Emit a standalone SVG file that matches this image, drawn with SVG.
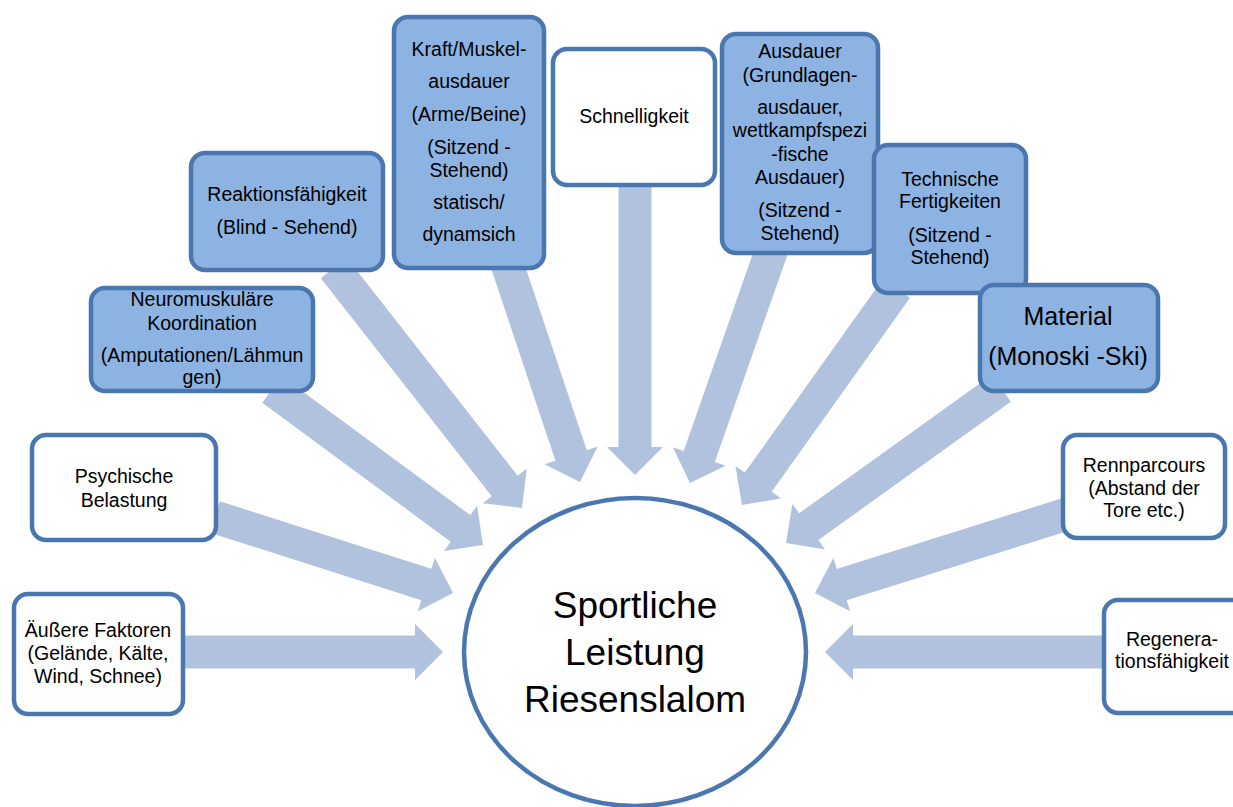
<svg xmlns="http://www.w3.org/2000/svg" width="1233" height="807" viewBox="0 0 1233 807">
<style>
.box{stroke:#4a77b0;stroke-width:4.5}
.blue{fill:#8db3e2}
.white{fill:#ffffff}
.arr{fill:#b0c2de}
text{font-family:"Liberation Sans",Arial,sans-serif;font-size:19.5px;fill:#000;text-anchor:middle}
.big{font-size:25px}
.center{font-size:37px}
</style>
<rect width="1233" height="807" fill="#ffffff"/>
<g id="connectors">
<polygon class="arr" transform="translate(443,652) rotate(0)" points="0,0 -28,-28 -28,-16.5 -262,-16.5 -262,16.5 -28,16.5 -28,28"/>
<polygon class="arr" transform="translate(453,593) rotate(17.7)" points="0,0 -28,-28 -28,-16.5 -250,-16.5 -250,16.5 -28,16.5 -28,28"/>
<polygon class="arr" transform="translate(483,545) rotate(36.4)" points="0,0 -28,-28 -28,-16.5 -262,-16.5 -262,16.5 -28,16.5 -28,28"/>
<polygon class="arr" transform="translate(522,508) rotate(51.9)" points="0,0 -28,-28 -28,-16.5 -305,-16.5 -305,16.5 -28,16.5 -28,28"/>
<polygon class="arr" transform="translate(580,482) rotate(71.5)" points="0,0 -28,-28 -28,-16.5 -230,-16.5 -230,16.5 -28,16.5 -28,28"/>
<polygon class="arr" transform="translate(635,475) rotate(90)" points="0,0 -28,-28 -28,-16.5 -292,-16.5 -292,16.5 -28,16.5 -28,28"/>
<polygon class="arr" transform="translate(690,483) rotate(109.3)" points="0,0 -28,-28 -28,-16.5 -248,-16.5 -248,16.5 -28,16.5 -28,28"/>
<polygon class="arr" transform="translate(742,505) rotate(125.5)" points="0,0 -28,-28 -28,-16.5 -266,-16.5 -266,16.5 -28,16.5 -28,28"/>
<polygon class="arr" transform="translate(786,543) rotate(144.3)" points="0,0 -28,-28 -28,-16.5 -265,-16.5 -265,16.5 -28,16.5 -28,28"/>
<polygon class="arr" transform="translate(815,593) rotate(162.6)" points="0,0 -28,-28 -28,-16.5 -265,-16.5 -265,16.5 -28,16.5 -28,28"/>
<polygon class="arr" transform="translate(825,652) rotate(180)" points="0,0 -28,-28 -28,-16.5 -282,-16.5 -282,16.5 -28,16.5 -28,28"/>
</g>
<g id="node-center">
<ellipse class="box white" cx="635" cy="652" rx="171" ry="154"/>
<text class="center" x="635" y="618">Sportliche</text>
<text class="center" x="635" y="665">Leistung</text>
<text class="center" x="635" y="712">Riesenslalom</text>
</g>
<g id="node-aeussere">
<rect class="box white" x="14" y="594" width="169" height="120" rx="14"/>
<text x="98" y="637">Äußere Faktoren</text>
<text x="98" y="660">(Gelände, Kälte,</text>
<text x="98" y="683">Wind, Schnee)</text>
</g>
<g id="node-psychische">
<rect class="box white" x="32" y="435" width="184" height="105" rx="14"/>
<text x="124" y="483">Psychische</text>
<text x="124" y="507">Belastung</text>
</g>
<g id="node-neuro">
<rect class="box blue" x="91" y="288" width="222" height="103" rx="14"/>
<text x="202" y="306">Neuromuskuläre</text>
<text x="202" y="330">Koordination</text>
<text x="202" y="362">(Amputationen/Lähmun</text>
<text x="202" y="384">gen)</text>
</g>
<g id="node-reaktion">
<rect class="box blue" x="191" y="153" width="192" height="117" rx="14"/>
<text x="287" y="201">Reaktionsfähigkeit</text>
<text x="287" y="234">(Blind - Sehend)</text>
</g>
<g id="node-kraft">
<rect class="box blue" x="394" y="17" width="150" height="251" rx="14"/>
<text x="469" y="56">Kraft/Muskel-</text>
<text x="469" y="88">ausdauer</text>
<text x="469" y="121">(Arme/Beine)</text>
<text x="469" y="154">(Sitzend -</text>
<text x="469" y="177">Stehend)</text>
<text x="469" y="209">statisch/</text>
<text x="469" y="241">dynamsich</text>
</g>
<g id="node-schnelligkeit">
<rect class="box white" x="553" y="49" width="162" height="136" rx="14"/>
<text x="634" y="123">Schnelligkeit</text>
</g>
<g id="node-ausdauer">
<rect class="box blue" x="722" y="34" width="156" height="219" rx="14"/>
<text x="800" y="58">Ausdauer</text>
<text x="800" y="82">(Grundlagen-</text>
<text x="800" y="114">ausdauer,</text>
<text x="800" y="137">wettkampfspezi</text>
<text x="800" y="161">-fische</text>
<text x="800" y="184">Ausdauer)</text>
<text x="800" y="217">(Sitzend -</text>
<text x="800" y="240">Stehend)</text>
</g>
<g id="node-technische">
<rect class="box blue" x="874" y="145" width="152" height="148" rx="14"/>
<text x="950" y="186">Technische</text>
<text x="950" y="208">Fertigkeiten</text>
<text x="950" y="242">(Sitzend -</text>
<text x="950" y="264">Stehend)</text>
</g>
<g id="node-material">
<rect class="box blue" x="980" y="285" width="178" height="106" rx="14"/>
<text class="big" x="1068" y="325">Material</text>
<text class="big" x="1068" y="365">(Monoski -Ski)</text>
</g>
<g id="node-rennparcours">
<rect class="box white" x="1063" y="435" width="162" height="103" rx="14"/>
<text x="1144" y="472">Rennparcours</text>
<text x="1144" y="495">(Abstand der</text>
<text x="1144" y="517">Tore etc.)</text>
</g>
<g id="node-regeneration">
<rect class="box white" x="1104" y="600" width="142" height="113" rx="14"/>
<text x="1172" y="646">Regenera-</text>
<text x="1172" y="668">tionsfähigkeit</text>
</g>
</svg>
